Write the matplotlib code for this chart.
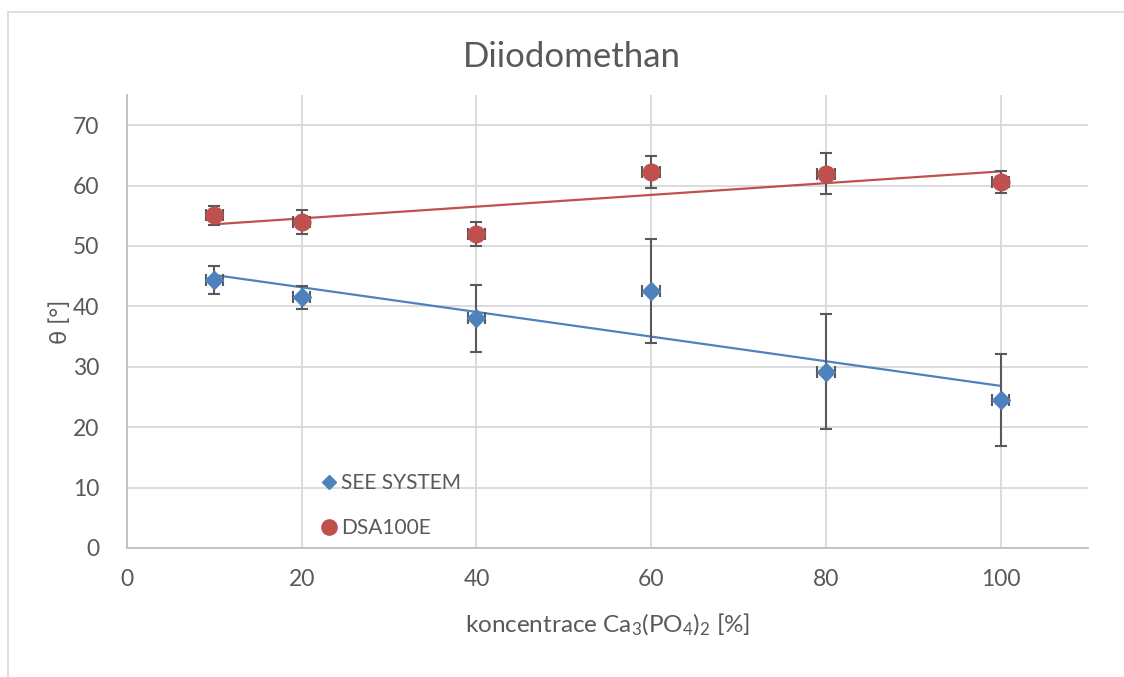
import numpy as np
import matplotlib
matplotlib.use("Agg")
import matplotlib.pyplot as plt
from matplotlib.patches import Rectangle
from matplotlib.lines import Line2D

plt.rcParams['font.family'] = ['Lato', 'DejaVu Sans']
plt.rcParams['mathtext.fontset'] = 'custom'
plt.rcParams['mathtext.rm'] = 'Lato'
plt.rcParams['mathtext.it'] = 'Lato:italic'
plt.rcParams['mathtext.bf'] = 'Lato:bold'

# Measured contact angles of diiodomethane
concentration = [10, 20, 40, 60, 80, 100]
see_system = [44.4, 41.5, 38.0, 42.6, 29.2, 24.5]
see_system_err = [2.35, 1.85, 5.5, 8.6, 9.5, 7.55]
dsa100e = [55.1, 54.0, 52.0, 62.2, 62.0, 60.6]
dsa100e_err = [1.55, 2.0, 1.95, 2.65, 3.35, 1.75]
conc_err = [1, 1, 1, 1, 1, 1]

series_names = ["SEE SYSTEM", "DSA100E"]
x_ticks = [0, 20, 40, 60, 80, 100]
y_ticks = [0, 10, 20, 30, 40, 50, 60, 70]

BLUE = "#4f81bd"
RED = "#c0504d"
TEXT = "#595959"
GRID = "#d9d9d9"
AXIS = "#bfbfbf"
ERR = "#595959"

fig = plt.figure(figsize=(11.24, 6.77), dpi=100)
fig.patch.set_facecolor("white")

# chart-area border
fig.patches.append(Rectangle((8 / 1124, -0.05), 1.2, 1 - 12 / 677 + 0.05,
                             transform=fig.transFigure, fill=False,
                             edgecolor="#d9d9d9", linewidth=1.2, zorder=0))

ax = fig.add_axes([127 / 1124, 1 - 548 / 677, (1088 - 127) / 1124, (548 - 95) / 677])
ax.set_xlim(0, 110)
ax.set_ylim(0, 75)
ax.set_xticks(x_ticks)
ax.set_yticks(y_ticks)
ax.grid(True, color=GRID, linewidth=1.3, zorder=0)
ax.set_axisbelow(True)
for side in ("top", "right"):
    ax.spines[side].set_visible(False)
for side in ("left", "bottom"):
    ax.spines[side].set_color(AXIS)
    ax.spines[side].set_linewidth(1.3)
ax.tick_params(axis="both", length=0, labelsize=16.5, labelcolor=TEXT)
ax.tick_params(axis="x", pad=15)
ax.tick_params(axis="y", pad=20)

x = np.array(concentration, dtype=float)

# linear trendlines
for ys, col in ((see_system, BLUE), (dsa100e, RED)):
    k, q = np.polyfit(x, np.array(ys), 1)
    xs = np.array([x.min(), x.max()])
    ax.plot(xs, k * xs + q, color=col, linewidth=1.6, zorder=2)

# error bars
for ys, yerr in ((see_system, see_system_err), (dsa100e, dsa100e_err)):
    ax.errorbar(x, ys, yerr=yerr, xerr=conc_err, fmt="none", ecolor=ERR,
                elinewidth=1.5, capsize=4, capthick=1.5, zorder=3)

ax.plot(x, see_system, linestyle="none", marker="D", markersize=9.5,
        color=BLUE, zorder=4)
ax.plot(x, dsa100e, linestyle="none", marker="o", markersize=12,
        color=RED, zorder=4)

handles = [
    Line2D([], [], linestyle="none", marker="D", markersize=7.5, color=BLUE),
    Line2D([], [], linestyle="none", marker="o", markersize=11, color=RED),
]
leg = ax.legend(handles, series_names, loc="upper left",
                bbox_to_anchor=((314 - 127) / (1088 - 127), (548 - 465) / (548 - 95)),
                frameon=False, fontsize=15, handlelength=0.6, handletextpad=0.3,
                labelspacing=1.2, borderaxespad=0, labelcolor=TEXT)

ax.set_xlabel("koncentrace Ca$_3$(PO$_4$)$_2$ [%]", fontsize=17.5, color=TEXT, labelpad=16)
ax.set_ylabel("θ [°]", fontsize=17, color=TEXT, labelpad=1)

fig.text(572 / 1124, 1 - 57 / 677, "Diiodomethan", ha="center", va="center",
         fontsize=25, color=TEXT)

fig.savefig("out.png", dpi=100)
